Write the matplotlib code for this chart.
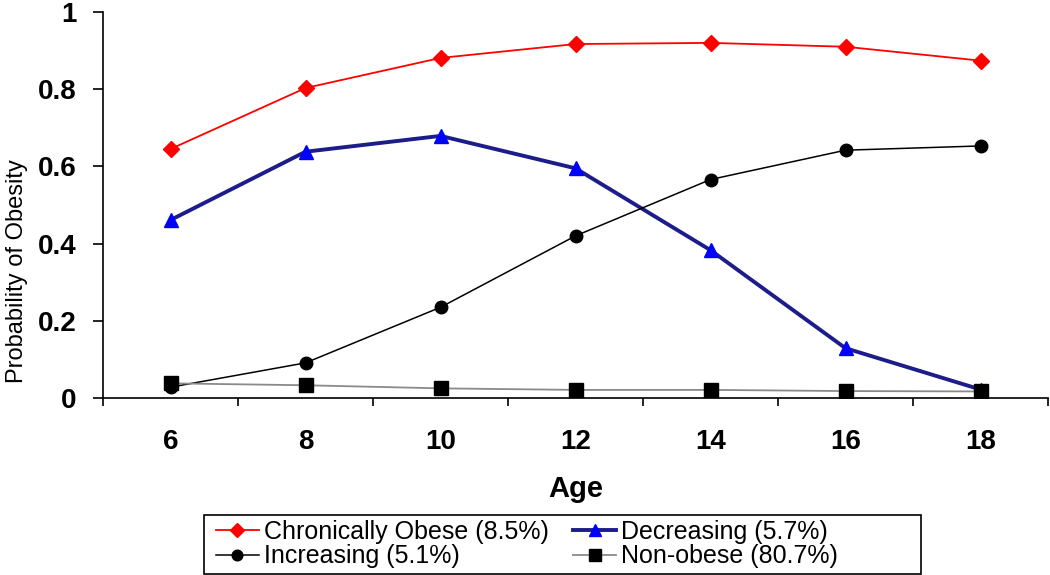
import numpy as np
import matplotlib.pyplot as plt
from matplotlib.patches import Rectangle

plt.rcParams['font.family'] = ['Liberation Sans', 'DejaVu Sans']

# data
ages = ['6', '8', '10', '12', '14', '16', '18']
chronic = [0.645, 0.803, 0.881, 0.917, 0.920, 0.910, 0.874]
decreasing = [0.461, 0.638, 0.679, 0.595, 0.383, 0.129, 0.022]
increasing = [0.028, 0.091, 0.235, 0.420, 0.566, 0.642, 0.653]
nonobese = [0.038, 0.033, 0.025, 0.021, 0.021, 0.018, 0.017]
lab_chronic = 'Chronically Obese (8.5%)'
lab_decr = 'Decreasing (5.7%)'
lab_incr = 'Increasing (5.1%)'
lab_non = 'Non-obese (80.7%)'
yticks = [0, 0.2, 0.4, 0.6, 0.8, 1.0]
ytick_labels = ['0', '0.2', '0.4', '0.6', '0.8', '1']

x = np.arange(len(ages))

fig = plt.figure(figsize=(10.5, 5.75), dpi=100)
ax = fig.add_axes([103/1050, 1 - 398/575, (1048 - 103)/1050, (398 - 12)/575])

h1, = ax.plot(x, chronic, color='red', lw=1.3, marker='D', ms=8, mec='red', mfc='red')
h2, = ax.plot(x, decreasing, color='#1c1c8a', lw=2.8, marker='^', ms=10, mec='blue', mfc='blue')
h3, = ax.plot(x, increasing, color='black', lw=1.1, marker='o', ms=9)
h4, = ax.plot(x, nonobese, color='#8a8a8a', lw=1.3, marker='s', ms=9.5, mfc='black', mec='black')

ax.set_xlim(-0.5, len(ages) - 0.5)
ax.set_ylim(0, 1)
ax.set_xticks(np.arange(-0.5, len(ages)), labels=[])
ax.set_xticks(x, labels=ages, minor=True)
ax.tick_params(axis='x', which='major', direction='out', length=6, width=1.2)
ax.tick_params(axis='x', which='minor', length=0, pad=22, labelsize=20)
ax.set_yticks(yticks, labels=ytick_labels)
ax.tick_params(axis='y', direction='out', length=7, width=1.2, labelsize=20, pad=12)
for lab in ax.get_xticklabels(minor=True) + ax.get_yticklabels():
    lab.set_fontweight('bold')

for s in ['top', 'right']:
    ax.spines[s].set_visible(False)
for s in ['left', 'bottom']:
    ax.spines[s].set_linewidth(1.2)

ax.set_xlabel('Age', fontsize=21, fontweight='bold')
ax.xaxis.set_label_coords(0.5, -0.2)
ax.set_ylabel('Probability of Obesity', fontsize=17)
ax.yaxis.set_label_coords(-0.079, 0.33)

# legend: frame drawn as its own box, entries placed inside (filled column by column)
fig.patches.append(Rectangle((204/1050, 1/575), 717/1050, 59/575,
                             transform=fig.transFigure, fill=False,
                             edgecolor='black', lw=1.2))
fig.legend([h1, h3, h2, h4], [lab_chronic, lab_incr, lab_decr, lab_non],
           ncol=2, loc='center left',
           bbox_to_anchor=(216/1050, 31/575), fontsize=18, frameon=False,
           handlelength=1.7, handletextpad=0.2, columnspacing=1.0,
           borderpad=0, borderaxespad=0, labelspacing=0.02, markerscale=0.85)

fig.savefig('out.png', dpi=100)
